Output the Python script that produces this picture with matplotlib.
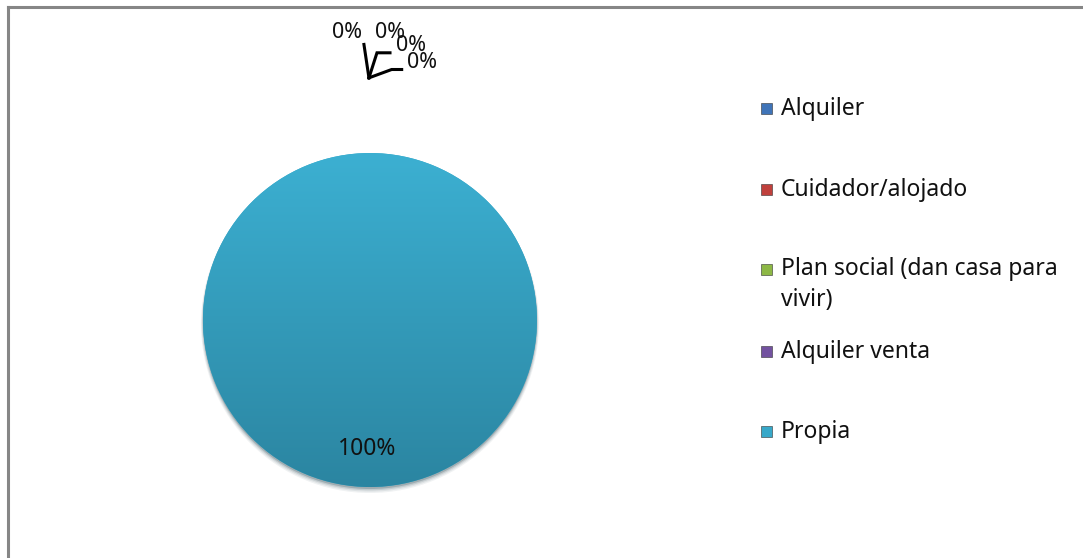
import numpy as np
import matplotlib.pyplot as plt
from matplotlib.patches import Rectangle, Circle
from matplotlib.colors import LinearSegmentedColormap

# tenencia de la vivienda
categorias = ['Alquiler', 'Cuidador/alojado', 'Plan social (dan casa para\nvivir)',
              'Alquiler venta', 'Propia']
valores = [0, 0, 0, 0, 100]
colores = ['#3f74b8', '#c0403c', '#8db845', '#7352a0', '#37a8c9']

plt.rcParams['font.family'] = ['Noto Sans', 'DejaVu Sans']

fig = plt.figure(figsize=(10.83, 5.58), dpi=100)
W, H = 1083, 558

# marco gris del área del gráfico (sin borde derecho ni inferior visibles)
fig.add_artist(plt.Line2D([0.0072, 0.0072], [0, 0.987], color='#868686', lw=2.2))
fig.add_artist(plt.Line2D([0.0072, 1.0], [0.987, 0.987], color='#868686', lw=2.2))

ax = fig.add_axes([0.1874, 0.1272, 0.3084, 0.5986])
ax.set_xlim(-1, 1)
ax.set_ylim(-1, 1)
ax.set_aspect('equal')
ax.axis('off')

# sombra suave debajo de la torta
for i, a in enumerate([0.06, 0.08, 0.12, 0.2]):
    ax.add_patch(Circle((0, -0.012 - 0.004 * (3 - i)), 1.0 + 0.004 * (3 - i),
                        color='#0b2f3d', alpha=a, lw=0, zorder=0, clip_on=False))

wedges, _ = ax.pie(valores, colors=colores, startangle=90, counterclock=False,
                   radius=1, wedgeprops=dict(lw=0))

# degradado vertical sobre la porción principal (claro arriba, oscuro abajo)
grad = np.linspace(0, 1, 256).reshape(-1, 1)
cmap = LinearSegmentedColormap.from_list('prop', ['#3cb0d2', '#2b85a1'])
for w in wedges:
    if w.theta2 - w.theta1 > 1:
        im = ax.imshow(grad, extent=[-1, 1, -1, 1], origin='upper', cmap=cmap,
                       aspect='auto', zorder=2, interpolation='bilinear')
        im.set_clip_path(w)
ax.set_xlim(-1, 1)
ax.set_ylim(-1, 1)

total = sum(valores)
etiquetas = [f'{v / total:.0%}' for v in valores]

# porcentajes de las porciones nulas, agrupados arriba con líneas guía
pos_etq = [(-0.14, 1.72), (0.12, 1.72), (0.245, 1.645), (0.31, 1.54)]
origen = (-0.006, 1.45)
guias = [[(-0.036, 1.65)],
         [(0.042, 1.60), (0.12, 1.60)],
         [(0.13, 1.50), (0.19, 1.50)]]
for g in guias:
    xs = [origen[0]] + [p[0] for p in g]
    ys = [origen[1]] + [p[1] for p in g]
    ax.plot(xs, ys, color='black', lw=2.2, clip_on=False, solid_joinstyle='miter')
for txt, (x, y) in zip(etiquetas[:4], pos_etq):
    ax.text(x, y, txt, ha='center', va='center', fontsize=15.5, color='#111111',
            clip_on=False, zorder=5)

ax.text(-0.02, -0.77, etiquetas[4], ha='center', va='center', fontsize=16.5,
        color='#111111', zorder=5)

# leyenda
ys_leg = [109, 190, 270, 352, 432]
for cat, col, yl in zip(categorias, colores, ys_leg):
    fig.add_artist(Rectangle((761 / W, 1 - (yl + 5) / H), 11 / W, 11 / H,
                             facecolor=col, edgecolor='#333333', lw=0.4,
                             transform=fig.transFigure))
    if '\n' in cat:
        fig.text(781 / W, 1 - (yl - 13) / H, cat, ha='left', va='top',
                 fontsize=16.5, color='#111111', linespacing=1.4)
    else:
        fig.text(781 / W, 1 - yl / H, cat, ha='left', va='center',
                 fontsize=16.5, color='#111111')

fig.savefig('out.png', dpi=100)
